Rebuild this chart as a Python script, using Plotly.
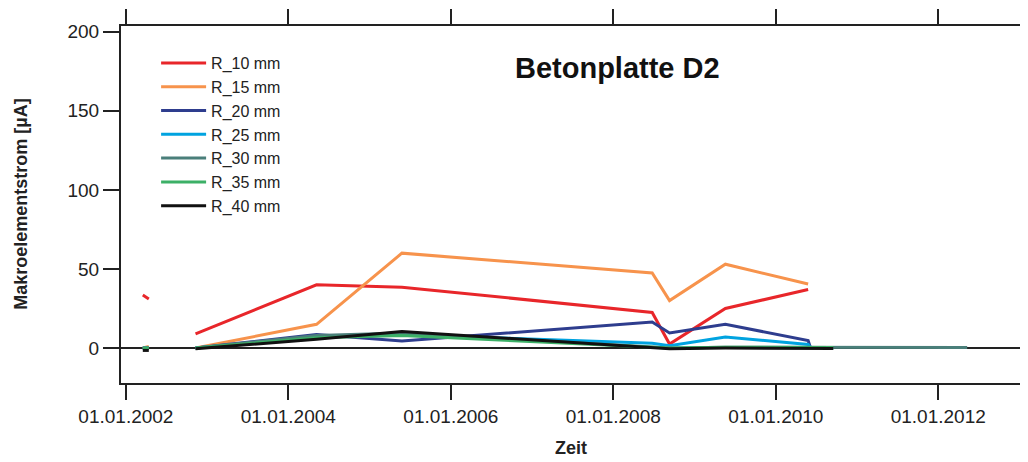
import plotly.graph_objects as go

# measurement dates (None row = gap in the record)
dates = ["2002-03-18", "2002-04-14", "2002-07-15", "2002-11-10", "2004-05-07",
         "2005-05-26", "2008-06-24", "2008-09-10", "2009-05-19", "2010-05-26",
         "2010-06-05", "2010-09-16", "2012-05-10"]

r_10 = [33.5, 31, None, 9, 40, 38.5, 22.5, 2.5, 25, 37, None, None, None]
r_15 = [0, 1, None, 0, 15, 60, 47.5, 30, 53, 40.5, None, None, None]
r_20 = [0, 0, None, 0, 8.5, 4.5, 16.5, 9.5, 15, 4.8, 0.5, 0, None]
r_25 = [0, 0, None, 0, 7, 8.5, 3, 1.5, 7, 2.3, 0.5, 0, None]
r_30 = [0, 0, None, 0, 8, 9.5, 1, 0, 0.5, 0.5, 0.3, 0.3, 0.3]
r_35 = [0, 0, None, 0, 6.5, 8, 0.5, 0, 0.5, 0.5, 0.3, 0.3, None]
r_40 = [-1.5, -1.5, None, -0.5, 5.5, 10.5, 0, -0.5, 0, 0, -0.3, -0.3, None]

series = [("R_10 mm", r_10, "#E8262A"),
          ("R_15 mm", r_15, "#F7934C"),
          ("R_20 mm", r_20, "#2E3D8E"),
          ("R_25 mm", r_25, "#00A3E0"),
          ("R_30 mm", r_30, "#4A7F7A"),
          ("R_35 mm", r_35, "#3CB067"),
          ("R_40 mm", r_40, "#111111")]

font = "Liberation Sans, Arial, sans-serif"

fig = go.Figure()
for name, vals, col in series:
    fig.add_trace(go.Scatter(x=dates, y=vals, name=name, mode="lines",
                             line=dict(color=col, width=3)))

# page body has an 8px margin, so margins are shifted to compensate
fig.update_layout(
    width=1028, height=462,
    margin=dict(l=113, r=15, t=18, b=87),
    paper_bgcolor="white", plot_bgcolor="white",
    font=dict(family=font, size=19, color="#222"),
    showlegend=True,
    legend=dict(x=0.039, y=0.944, xanchor="left", yanchor="top",
                bgcolor="rgba(0,0,0,0)", itemwidth=45,
                font=dict(size=16)),
    annotations=[
        dict(text="<b>Betonplatte D2</b>", x=0.552, y=0.882,
             xref="paper", yref="paper", showarrow=False,
             xanchor="center", yanchor="middle",
             font=dict(size=29, color="#111")),
        dict(text="<b>Makroelementstrom [µA]</b>", x=-0.112, y=0.5,
             xref="paper", yref="paper", showarrow=False, textangle=-90,
             xanchor="center", yanchor="middle",
             font=dict(size=18, color="#222")),
        dict(text="<b>Zeit</b>", x=0.5, y=-0.182,
             xref="paper", yref="paper", showarrow=False,
             xanchor="center", yanchor="middle",
             font=dict(size=18, color="#222")),
    ],
)

fig.update_xaxes(
    type="date", range=["2001-12-10", "2013-01-07"], automargin=False,
    tick0="2002-01-01", dtick="M24", tickformat="%d.%m.%Y",
    showline=True, linecolor="#222", linewidth=2, mirror="ticks",
    ticks="outside", ticklen=15, tickwidth=2, tickcolor="#222",
    showgrid=False, zeroline=False,
)
fig.update_yaxes(
    range=[-22.1, 203.6], tickvals=[0, 50, 100, 150, 200], automargin=False,
    showline=True, linecolor="#222", linewidth=2, mirror="ticks",
    ticks="outside", ticklen=16, tickwidth=2, tickcolor="#222",
    showgrid=False, zeroline=True, zerolinecolor="#222", zerolinewidth=2,
)

fig.write_html("out.html")
